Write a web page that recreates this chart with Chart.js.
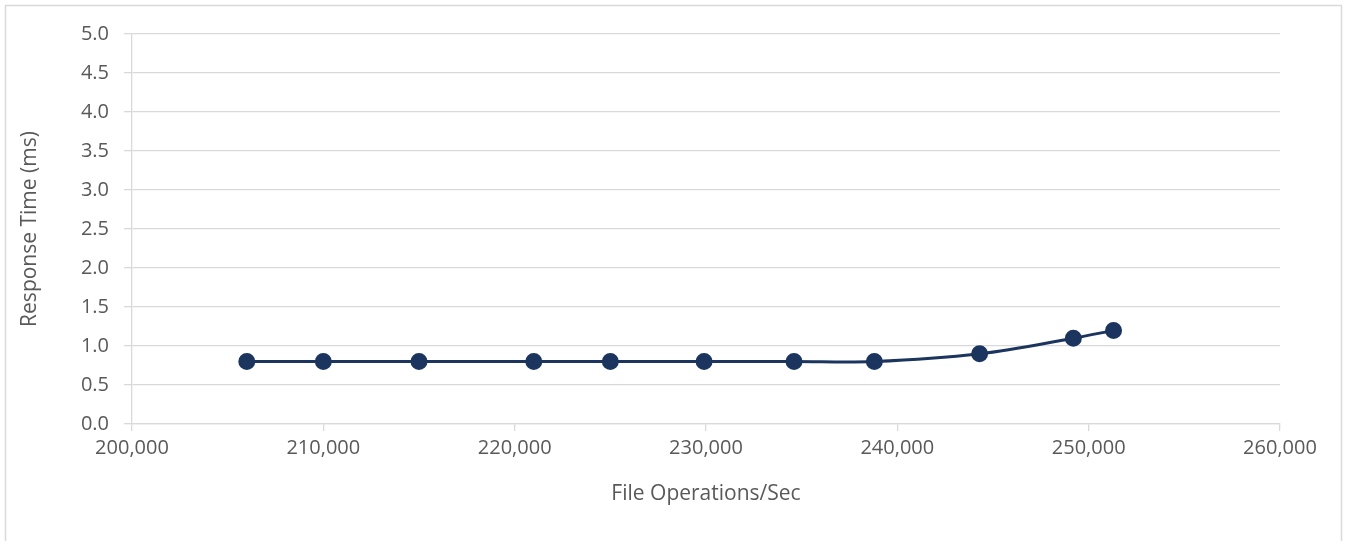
<!DOCTYPE html>
<html>
<head>
<meta charset="utf-8">
<script src="https://cdn.jsdelivr.net/npm/chart.js@4/dist/chart.umd.min.js"></script>
<style>
  html, body { margin: 0; padding: 0; background: #fff; }
  #wrap { position: relative; width: 1349px; height: 541px; }
</style>
</head>
<body>
<div id="wrap"><canvas id="chart" width="1349" height="541"></canvas></div>
<script>
// data
var fileOps = [206000, 210000, 215000, 221000, 225000, 229900, 234600, 238800, 244300, 249200, 251300];
var responseMs = [0.8, 0.8, 0.8, 0.8, 0.8, 0.8, 0.8, 0.8, 0.9, 1.1, 1.2];
var xTicks = [200000, 210000, 220000, 230000, 240000, 250000, 260000];
var yTicks = [0, 0.5, 1, 1.5, 2, 2.5, 3, 3.5, 4, 4.5, 5];

var textColor = "#595959";
var gridColor = "#d9d9d9";
var lineColor = "#1c355e";

// outer frame like the office chart border
var frame = {
  id: "frame",
  beforeDraw: function (chart) {
    var c = chart.ctx;
    c.save();
    c.fillStyle = "#fff";
    c.fillRect(0, 0, chart.width, chart.height);
    c.strokeStyle = gridColor;
    c.lineWidth = 1.5;
    c.strokeRect(5.5, 5.5, 1336, 560);
    c.restore();
  },
};

var ctx = document.getElementById("chart").getContext("2d");
new Chart(ctx, {
  type: "line",
  data: {
    datasets: [
      {
        label: "Response Time",
        data: fileOps.map(function (x, i) {
          return { x: x, y: responseMs[i] };
        }),
        borderColor: lineColor,
        backgroundColor: lineColor,
        borderWidth: 3,
        pointRadius: 7,
        pointHoverRadius: 7,
        tension: 0.35,
        fill: false,
      },
    ],
  },
  plugins: [frame],
  options: {
    responsive: false,
    animation: false,
    layout: { padding: { top: 34, right: 69, left: 0, bottom: 0 } },
    plugins: {
      legend: { display: false },
      tooltip: { enabled: false },
    },
    scales: {
      x: {
        type: "linear",
        min: xTicks[0],
        max: xTicks[xTicks.length - 1],
        afterBuildTicks: function (scale) {
          scale.ticks = xTicks.map(function (v) { return { value: v }; });
        },
        afterFit: function (scale) {
          scale.height = 117;
        },
        grid: {
          drawOnChartArea: false,
          drawTicks: true,
          tickLength: 7,
          color: gridColor,
          lineWidth: 1.3,
        },
        border: { color: gridColor, width: 1.3 },
        ticks: {
          color: textColor,
          padding: 5,
          maxRotation: 0,
          font: { family: "'Open Sans', sans-serif", size: 20 },
          callback: function (v) {
            return v.toLocaleString("en-US");
          },
        },
        title: {
          display: true,
          text: "File Operations/Sec",
          color: textColor,
          font: { family: "'Open Sans', sans-serif", size: 21 },
          padding: { top: 4, bottom: 34 },
        },
      },
      y: {
        min: 0,
        max: 5,
        afterBuildTicks: function (scale) {
          scale.ticks = yTicks.map(function (v) { return { value: v }; });
        },
        afterFit: function (scale) {
          scale.width = 132;
        },
        grid: {
          color: gridColor,
          lineWidth: 1.3,
          tickLength: 8,
        },
        border: { color: gridColor, width: 1.3 },
        ticks: {
          color: textColor,
          padding: 15,
          font: { family: "'Open Sans', sans-serif", size: 20 },
          callback: function (v) {
            return Number(v).toFixed(1);
          },
        },
        title: {
          display: true,
          text: "Response Time (ms)",
          color: textColor,
          font: { family: "'Open Sans', sans-serif", size: 21 },
          padding: { top: 17, bottom: 0 },
        },
      },
    },
  },
});
</script>
</body>
</html>
